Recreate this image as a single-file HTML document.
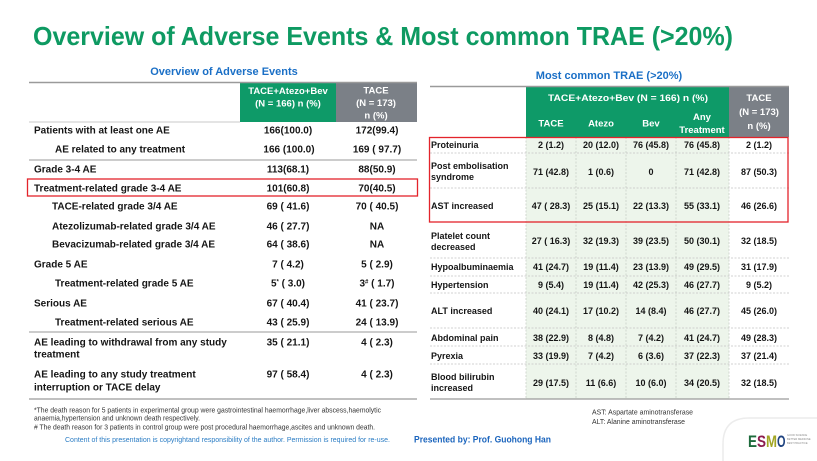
<!DOCTYPE html>
<html>
<head>
<meta charset="utf-8">
<style>
  html,body{margin:0;padding:0;background:#fff;}
  body{width:817px;height:461px;overflow:hidden;}
  svg{display:block;font-family:"Liberation Sans",Arial,sans-serif;}
  .lb{font-size:10px;font-weight:bold;fill:#151515;}
  .lv{font-size:10px;font-weight:bold;fill:#151515;text-anchor:middle;}
  .rb{font-size:9px;font-weight:bold;fill:#151515;}
  .rv{font-size:9px;font-weight:bold;fill:#151515;text-anchor:middle;}
  .hd{font-size:9.5px;font-weight:bold;fill:#fff;text-anchor:middle;}
  .fn{font-size:7px;fill:#333;}
</style>
</head>
<body>
<svg width="817" height="461" viewBox="0 0 817 461" xmlns="http://www.w3.org/2000/svg" xml:space="preserve">
  <rect x="0" y="0" width="817" height="461" fill="#fff"/>

  <!-- Title -->
  <text x="33" y="45" font-size="26" font-weight="bold" fill="#0e9a62" textLength="700" lengthAdjust="spacingAndGlyphs">Overview of Adverse Events &amp; Most common TRAE (&gt;20%)</text>

  <!-- Subtitles -->
  <text x="224" y="75" font-size="11" font-weight="bold" fill="#1a6fc6" text-anchor="middle">Overview of Adverse Events</text>
  <text x="609" y="79" font-size="11" font-weight="bold" fill="#1a6fc6" text-anchor="middle">Most common TRAE (&gt;20%)</text>

  <!-- ===== LEFT TABLE ===== -->
  <rect x="240" y="83" width="96" height="39" fill="#0e9a68"/>
  <rect x="336" y="83" width="81" height="39" fill="#7b8087"/>
  <line x1="29" y1="82.5" x2="417" y2="82.5" stroke="#9a9a9a" stroke-width="1.5"/>
  <line x1="29" y1="122" x2="240" y2="122" stroke="#c8c8c8" stroke-width="1"/>
  <text class="hd" x="288" y="94">TACE+Atezo+Bev</text>
  <text class="hd" x="288" y="106.5">(N = 166) n (%)</text>
  <text class="hd" x="376" y="93.5">TACE</text>
  <text class="hd" x="376" y="106">(N = 173)</text>
  <text class="hd" x="376" y="118.5">n (%)</text>

  <line x1="29" y1="160" x2="417" y2="160" stroke="#9a9a9a" stroke-width="1"/>
  <line x1="29" y1="332" x2="417" y2="332" stroke="#9a9a9a" stroke-width="1"/>
  <line x1="29" y1="399" x2="417" y2="399" stroke="#9a9a9a" stroke-width="1.2"/>

  <rect x="27.5" y="179" width="390" height="17" fill="none" stroke="#e3242b" stroke-width="1.3"/>

  <text class="lb" x="34" y="133.5">Patients with at least one AE</text>
  <text class="lv" x="288" y="133.5">166(100.0)</text>
  <text class="lv" x="377" y="133.5">172(99.4)</text>

  <text class="lb" x="55" y="152.5">AE related to any treatment</text>
  <text class="lv" x="289" y="152.5">166 (100.0)</text>
  <text class="lv" x="377" y="152.5">169 ( 97.7)</text>

  <text class="lb" x="34" y="172.5">Grade 3-4 AE</text>
  <text class="lv" x="288" y="172.5">113(68.1)</text>
  <text class="lv" x="377" y="172.5">88(50.9)</text>

  <text class="lb" x="34" y="191.5">Treatment-related grade 3-4 AE</text>
  <text class="lv" x="288" y="191.5">101(60.8)</text>
  <text class="lv" x="377" y="191.5">70(40.5)</text>

  <text class="lb" x="52" y="209.5">TACE-related grade 3/4 AE</text>
  <text class="lv" x="288" y="209.5">69 ( 41.6)</text>
  <text class="lv" x="377" y="209.5">70 ( 40.5)</text>

  <text class="lb" x="52" y="229.5">Atezolizumab-related grade 3/4 AE</text>
  <text class="lv" x="288" y="229.5">46 ( 27.7)</text>
  <text class="lv" x="377" y="229.5">NA</text>

  <text class="lb" x="52" y="247.5">Bevacizumab-related grade 3/4 AE</text>
  <text class="lv" x="288" y="247.5">64 ( 38.6)</text>
  <text class="lv" x="377" y="247.5">NA</text>

  <text class="lb" x="34" y="267.5">Grade 5 AE</text>
  <text class="lv" x="288" y="267.5">7 ( 4.2)</text>
  <text class="lv" x="377" y="267.5">5 ( 2.9)</text>

  <text class="lb" x="55" y="286.5">Treatment-related grade 5 AE</text>
  <text class="lv" x="288" y="286.5">5<tspan font-size="6" dy="-3">*</tspan><tspan dy="3"> ( 3.0)</tspan></text>
  <text class="lv" x="377" y="286.5">3<tspan font-size="6" dy="-3">#</tspan><tspan dy="3"> ( 1.7)</tspan></text>

  <text class="lb" x="34" y="306.5">Serious AE</text>
  <text class="lv" x="288" y="306.5">67 ( 40.4)</text>
  <text class="lv" x="377" y="306.5">41 ( 23.7)</text>

  <text class="lb" x="55" y="325.5">Treatment-related serious AE</text>
  <text class="lv" x="288" y="325.5">43 ( 25.9)</text>
  <text class="lv" x="377" y="325.5">24 ( 13.9)</text>

  <text class="lb" x="34" y="345.5">AE leading to withdrawal from any study</text>
  <text class="lb" x="34" y="357.5">treatment</text>
  <text class="lv" x="288" y="345.5">35 ( 21.1)</text>
  <text class="lv" x="377" y="345.5">4 ( 2.3)</text>

  <text class="lb" x="34" y="377.5">AE leading to any study treatment</text>
  <text class="lb" x="34" y="390.5">interruption or TACE delay</text>
  <text class="lv" x="288" y="377.5">97 ( 58.4)</text>
  <text class="lv" x="377" y="377.5">4 ( 2.3)</text>

  <!-- Footnotes -->
  <text class="fn" x="34" y="412.5" textLength="347" lengthAdjust="spacingAndGlyphs">*The death reason for 5 patients in experimental group were  gastrointestinal haemorrhage,liver abscess,haemolytic</text>
  <text class="fn" x="34" y="420.5" textLength="166" lengthAdjust="spacingAndGlyphs">anaemia,hypertension and unknown death respectively.</text>
  <text class="fn" x="34" y="429.5" textLength="341" lengthAdjust="spacingAndGlyphs"># The death reason for 3 patients in control group were post procedural haemorrhage,ascites and unknown death.</text>
  <text x="65" y="442" font-size="7.5" fill="#2a7cc4" textLength="325" lengthAdjust="spacingAndGlyphs">Content of this presentation is copyrightand responsibility of the author. Permission is required for re-use.</text>

  <!-- ===== RIGHT TABLE ===== -->
  <rect x="526" y="87" width="203" height="50" fill="#0e9a68"/>
  <rect x="729" y="87" width="60" height="50" fill="#7b8087"/>
  <rect x="526" y="137" width="203" height="262" fill="#edf5eb"/>
  <line x1="430" y1="86.5" x2="789" y2="86.5" stroke="#9a9a9a" stroke-width="1.5"/>

  <text class="hd" x="628" y="101" textLength="160" lengthAdjust="spacingAndGlyphs">TACE+Atezo+Bev (N = 166) n (%)</text>
  <text class="hd" x="551" y="126.5">TACE</text>
  <text class="hd" x="601" y="126.5">Atezo</text>
  <text class="hd" x="651" y="126.5">Bev</text>
  <text class="hd" x="702" y="120">Any</text>
  <text class="hd" x="702" y="133">Treatment</text>
  <text class="hd" x="759" y="101">TACE</text>
  <text class="hd" x="759" y="115">(N = 173)</text>
  <text class="hd" x="759" y="129">n (%)</text>

  <!-- dashed verticals -->
  <g stroke="#c9cfc8" stroke-width="0.8" stroke-dasharray="2,1.5">
    <line x1="526" y1="137" x2="526" y2="399"/>
    <line x1="576" y1="137" x2="576" y2="399"/>
    <line x1="626" y1="137" x2="626" y2="399"/>
    <line x1="676" y1="137" x2="676" y2="399"/>
    <line x1="729" y1="137" x2="729" y2="399"/>
  </g>
  <!-- dashed horizontals -->
  <g stroke="#c4c4c4" stroke-width="0.8" stroke-dasharray="2,1.5">
    <line x1="430" y1="153" x2="789" y2="153"/>
    <line x1="430" y1="188" x2="789" y2="188"/>
    <line x1="430" y1="258" x2="789" y2="258"/>
    <line x1="430" y1="276" x2="789" y2="276"/>
    <line x1="430" y1="293" x2="789" y2="293"/>
    <line x1="430" y1="328" x2="789" y2="328"/>
    <line x1="430" y1="346" x2="789" y2="346"/>
    <line x1="430" y1="364" x2="789" y2="364"/>
  </g>
  <line x1="430" y1="399" x2="789" y2="399" stroke="#9a9a9a" stroke-width="1.2"/>

  <rect x="429.5" y="137.5" width="358.5" height="84.5" fill="none" stroke="#e3242b" stroke-width="1.3"/>

  <!-- Rows -->
  <text class="rb" x="431" y="148.2">Proteinuria</text>
  <text class="rv" x="551" y="148.2">2 (1.2)</text>
  <text class="rv" x="601" y="148.2">20 (12.0)</text>
  <text class="rv" x="651" y="148.2">76 (45.8)</text>
  <text class="rv" x="702" y="148.2">76 (45.8)</text>
  <text class="rv" x="759" y="148.2">2 (1.2)</text>

  <text class="rb" x="431" y="169.2">Post embolisation</text>
  <text class="rb" x="431" y="180.2">syndrome</text>
  <text class="rv" x="551" y="175.2">71 (42.8)</text>
  <text class="rv" x="601" y="175.2">1 (0.6)</text>
  <text class="rv" x="651" y="175.2">0</text>
  <text class="rv" x="702" y="175.2">71 (42.8)</text>
  <text class="rv" x="759" y="175.2">87 (50.3)</text>

  <text class="rb" x="431" y="209.2">AST increased</text>
  <text class="rv" x="551" y="209.2">47 ( 28.3)</text>
  <text class="rv" x="601" y="209.2">25 (15.1)</text>
  <text class="rv" x="651" y="209.2">22 (13.3)</text>
  <text class="rv" x="702" y="209.2">55 (33.1)</text>
  <text class="rv" x="759" y="209.2">46 (26.6)</text>

  <text class="rb" x="431" y="239.2">Platelet count</text>
  <text class="rb" x="431" y="250.2">decreased</text>
  <text class="rv" x="551" y="244.2">27 ( 16.3)</text>
  <text class="rv" x="601" y="244.2">32 (19.3)</text>
  <text class="rv" x="651" y="244.2">39 (23.5)</text>
  <text class="rv" x="702" y="244.2">50 (30.1)</text>
  <text class="rv" x="759" y="244.2">32 (18.5)</text>

  <text class="rb" x="431" y="270.2">Hypoalbuminaemia</text>
  <text class="rv" x="551" y="270.2">41 (24.7)</text>
  <text class="rv" x="601" y="270.2">19 (11.4)</text>
  <text class="rv" x="651" y="270.2">23 (13.9)</text>
  <text class="rv" x="702" y="270.2">49 (29.5)</text>
  <text class="rv" x="759" y="270.2">31 (17.9)</text>

  <text class="rb" x="431" y="288.2">Hypertension</text>
  <text class="rv" x="551" y="288.2">9 (5.4)</text>
  <text class="rv" x="601" y="288.2">19 (11.4)</text>
  <text class="rv" x="651" y="288.2">42 (25.3)</text>
  <text class="rv" x="702" y="288.2">46 (27.7)</text>
  <text class="rv" x="759" y="288.2">9 (5.2)</text>

  <text class="rb" x="431" y="314.2">ALT increased</text>
  <text class="rv" x="551" y="314.2">40 (24.1)</text>
  <text class="rv" x="601" y="314.2">17 (10.2)</text>
  <text class="rv" x="651" y="314.2">14 (8.4)</text>
  <text class="rv" x="702" y="314.2">46 (27.7)</text>
  <text class="rv" x="759" y="314.2">45 (26.0)</text>

  <text class="rb" x="431" y="341.2">Abdominal pain</text>
  <text class="rv" x="551" y="341.2">38 (22.9)</text>
  <text class="rv" x="601" y="341.2">8 (4.8)</text>
  <text class="rv" x="651" y="341.2">7 (4.2)</text>
  <text class="rv" x="702" y="341.2">41 (24.7)</text>
  <text class="rv" x="759" y="341.2">49 (28.3)</text>

  <text class="rb" x="431" y="359.2">Pyrexia</text>
  <text class="rv" x="551" y="359.2">33 (19.9)</text>
  <text class="rv" x="601" y="359.2">7 (4.2)</text>
  <text class="rv" x="651" y="359.2">6 (3.6)</text>
  <text class="rv" x="702" y="359.2">37 (22.3)</text>
  <text class="rv" x="759" y="359.2">37 (21.4)</text>

  <text class="rb" x="431" y="380.2">Blood bilirubin</text>
  <text class="rb" x="431" y="391.2">increased</text>
  <text class="rv" x="551" y="386.2">29 (17.5)</text>
  <text class="rv" x="601" y="386.2">11 (6.6)</text>
  <text class="rv" x="651" y="386.2">10 (6.0)</text>
  <text class="rv" x="702" y="386.2">34 (20.5)</text>
  <text class="rv" x="759" y="386.2">32 (18.5)</text>

  <!-- Abbreviations -->
  <text class="fn" x="592" y="414.5" fill="#555" textLength="101" lengthAdjust="spacingAndGlyphs">AST: Aspartate aminotransferase</text>
  <text class="fn" x="592" y="424" fill="#555" textLength="93" lengthAdjust="spacingAndGlyphs">ALT: Alanine aminotransferase</text>

  <text x="414" y="442.5" font-size="9.5" font-weight="bold" fill="#1a64bd" textLength="137" lengthAdjust="spacingAndGlyphs">Presented by: Prof. Guohong Han</text>

  <!-- bottom-right panel -->
  <path d="M723,461 L723,444 Q723,418 749,418 L817,418" fill="none" stroke="#ececec" stroke-width="1.5"/>

  <!-- ESMO logo -->
  <g font-weight="bold" font-size="17">
    <text x="748" y="447" fill="#1d6b3c" textLength="9" lengthAdjust="spacingAndGlyphs">E</text>
    <text x="757" y="447" fill="#8c1c4e" textLength="9" lengthAdjust="spacingAndGlyphs">S</text>
    <text x="766" y="447" fill="#a2a624" textLength="11" lengthAdjust="spacingAndGlyphs">M</text>
    <text x="777" y="447" fill="#1f4380" textLength="8.5" lengthAdjust="spacingAndGlyphs">O</text>
  </g>
  <g font-size="2.6" fill="#8a8a8a">
    <text x="787" y="436">GOOD SCIENCE</text>
    <text x="787" y="440">BETTER MEDICINE</text>
    <text x="787" y="444">BEST PRACTICE</text>
  </g>
</svg>
</body>
</html>
